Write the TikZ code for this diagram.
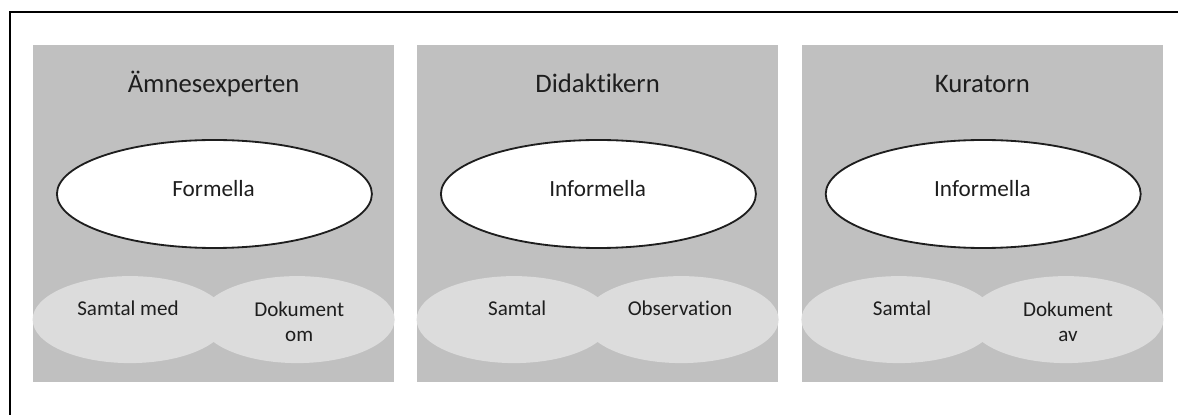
\documentclass[tikz,border=0pt]{standalone}
\usepackage{fontspec}
\setmainfont{Carlito}[Ligatures=NoCommon]
\usetikzlibrary{shapes.geometric,positioning}
\definecolor{panelgray}{RGB}{192,192,192}
\definecolor{softgray}{RGB}{220,220,220}
\definecolor{ink}{RGB}{30,30,30}
\tikzset{
  panel/.style={fill=panelgray,minimum width=9.025cm,minimum height=8.425cm,inner sep=0pt},
  title/.style={anchor=base,text=ink,font=\fontsize{19}{23}\selectfont},
  bigoval/.style={ellipse,draw=ink,fill=white,line width=1.3pt,minimum width=7.875cm,
    minimum height=2.7cm,inner sep=0pt},
  bigtext/.style={anchor=base,text=ink,font=\fontsize{16.5}{20}\selectfont},
  smalloval/.style={ellipse,fill=softgray,minimum width=4.87cm,minimum height=2.175cm,inner sep=0pt},
  smalltext/.style={anchor=base,text=ink,align=center,font=\fontsize{15}{18.4}\selectfont},
}
\begin{document}
\begin{tikzpicture}
  \useasboundingbox (0,0) rectangle (29.45,-10.375);
  % frame
  \coordinate (fr) at (29.45,-0.30);
  \coordinate (fc) at (0.24,-0.30);
  \coordinate (fb) at (0.24,-10.375);
  \draw[black,line width=1.4pt] (fr) -- (fc) -- (fb);
  % panel 1
  \node[panel] (p1) at (5.34,-5.34) {};
  \node[title] (t1) at (5.34,-2.325) {Ämnesexperten};
  \node[bigoval] (b1) at (5.36,-4.85) {};
  \node[bigtext] (f1) at (5.34,-4.925) {Formella};
  \node[smalloval] (s1a) at (3.25,-7.99) {};
  \node[smalloval] (s1b) at (7.43,-7.99) {};
  \node[smalltext] (l1a) at (3.2,-7.9) {Samtal med};
  \node[smalltext] (l1b) at (7.48,-8.55) {Dokument\\om};
  % panel 2
  \node[panel] (p2) at (14.94,-5.34) {};
  \node[title] (t2) at (14.94,-2.325) {Didaktikern};
  \node[bigoval] (b2) at (14.96,-4.85) {};
  \node[bigtext] (f2) at (14.94,-4.925) {Informella};
  \node[smalloval] (s2a) at (12.85,-7.99) {};
  \node[smalloval] (s2b) at (17.03,-7.99) {};
  \node[smalltext] (l2a) at (12.93,-7.9) {Samtal};
  \node[smalltext] (l2b) at (17.0,-7.9) {Observation};
  % panel 3
  \node[panel] (p3) at (24.56,-5.34) {};
  \node[title] (t3) at (24.56,-2.325) {Kuratorn};
  \node[bigoval] (b3) at (24.58,-4.85) {};
  \node[bigtext] (f3) at (24.56,-4.925) {Informella};
  \node[smalloval] (s3a) at (22.47,-7.99) {};
  \node[smalloval] (s3b) at (26.65,-7.99) {};
  \node[smalltext] (l3a) at (22.55,-7.9) {Samtal};
  \node[smalltext] (l3b) at (26.7,-8.55) {Dokument\\av};
\end{tikzpicture}
\end{document}
